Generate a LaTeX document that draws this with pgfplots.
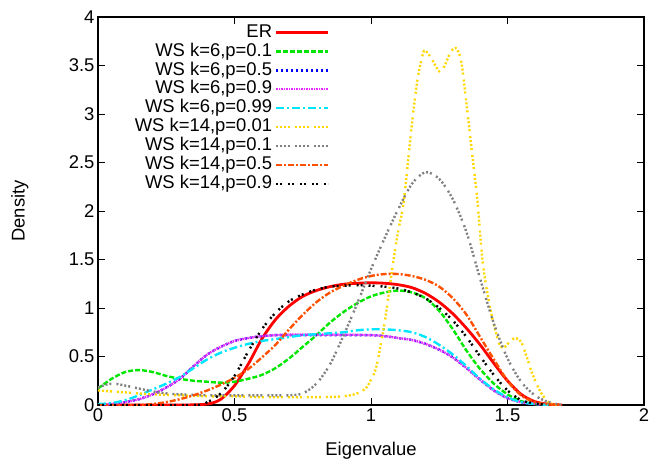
\documentclass[border=0pt]{standalone}
\usepackage{pgfplots}
\pgfplotsset{compat=1.18}
\usepackage{fontspec}
\setmainfont{Liberation Sans}
\definecolor{gGreen}{RGB}{0,230,0}
\definecolor{gBlue}{RGB}{0,0,255}
\definecolor{gMag}{RGB}{230,40,255}
\definecolor{gCyan}{RGB}{0,230,255}
\definecolor{gYel}{RGB}{255,215,0}
\definecolor{gGray}{RGB}{128,128,128}
\definecolor{gOr}{RGB}{255,80,0}
\begin{document}
\begin{tikzpicture}
\path[use as bounding box] (-98bp,-61bp) rectangle (554bp,405bp);
\begin{axis}[
  scale only axis, width=546bp, height=388bp,
  xmin=0, xmax=2, ymin=0, ymax=4,
  xtick={0,0.5,1,1.5,2}, ytick={0,0.5,1,1.5,2,2.5,3,3.5,4},
  tick align=inside, xtick pos=both, ytick pos=both,
  major tick length=7bp,
  tick style={black, line width=0.8bp},
  axis line style={line width=1.1bp},
  /pgf/number format/assume math mode=true,
  every tick label/.append style={font=\fontsize{18.5}{22}\selectfont},
  label style={font=\fontsize{18.5}{22}\selectfont},
  xlabel={Eigenvalue}, ylabel={Density},
  xlabel style={at={(axis description cs:0.5,-0.118)}, anchor=center},
  ylabel style={at={(axis description cs:-0.143,0.5)}, anchor=center},
  legend cell align=right,
  legend plot pos=right,
  legend style={at={(axis description cs:0.43,0.99)}, anchor=north east,
    draw=none, fill=none, font=\fontsize{18.5}{22}\selectfont, row sep=0bp,
    column sep=2bp,
    nodes={inner sep=0.7bp, text height=13.5bp, text depth=4bp}},
  every axis plot/.append style={smooth, line width=2.4bp, line cap=butt,
    legend image code/.code={\draw[##1] (0bp,0bp) -- (52bp,0bp);}},
]
% ER
\addplot[red, solid, line width=2.8bp] coordinates {
(0,0) (0.3,0) (0.4,0.01) (0.45,0.06) (0.5,0.2) (0.55,0.42) (0.6,0.68) (0.65,0.88) (0.7,1.02) (0.75,1.12) (0.8,1.18) (0.85,1.22) (0.9,1.245) (0.95,1.255) (1.0,1.26) (1.05,1.255) (1.1,1.24) (1.15,1.21) (1.2,1.15) (1.25,1.06) (1.3,0.94) (1.35,0.79) (1.4,0.62) (1.45,0.43) (1.5,0.25) (1.55,0.11) (1.6,0.035) (1.65,0.008) (1.7,0)};
\addlegendentry{ER}
% WS k=6 p=0.1
\addplot[gGreen, dash pattern=on 5bp off 2bp] coordinates {
(0,0.17) (0.05,0.27) (0.1,0.34) (0.15,0.36) (0.2,0.34) (0.25,0.3) (0.3,0.27) (0.35,0.25) (0.4,0.24) (0.45,0.23) (0.5,0.24) (0.55,0.27) (0.6,0.31) (0.65,0.38) (0.7,0.48) (0.75,0.6) (0.8,0.72) (0.85,0.85) (0.9,0.96) (0.95,1.05) (1.0,1.12) (1.05,1.16) (1.1,1.18) (1.15,1.16) (1.2,1.1) (1.25,0.97) (1.3,0.78) (1.35,0.56) (1.4,0.37) (1.45,0.22) (1.5,0.11) (1.55,0.04) (1.6,0.01) (1.65,0)};
\addlegendentry{WS k=6,p=0.1}
% WS k=6 p=0.5
\addplot[gBlue, dash pattern=on 2bp off 3bp] coordinates {
(0,0.005) (0.05,0.01) (0.1,0.03) (0.15,0.06) (0.2,0.11) (0.25,0.18) (0.3,0.27) (0.35,0.4) (0.4,0.52) (0.45,0.6) (0.5,0.66) (0.55,0.69) (0.6,0.71) (0.65,0.72) (0.7,0.72) (0.8,0.72) (0.9,0.72) (1.0,0.72) (1.05,0.71) (1.1,0.69) (1.15,0.67) (1.2,0.63) (1.25,0.57) (1.3,0.49) (1.35,0.38) (1.4,0.26) (1.45,0.15) (1.5,0.07) (1.55,0.03) (1.6,0.01) (1.65,0)};
\addlegendentry{WS k=6,p=0.5}
% WS k=6 p=0.9
\addplot[gMag, dash pattern=on 1.5bp off 1bp] coordinates {
(0,0.005) (0.05,0.01) (0.1,0.03) (0.15,0.06) (0.2,0.11) (0.25,0.18) (0.3,0.27) (0.35,0.4) (0.4,0.52) (0.45,0.6) (0.5,0.66) (0.55,0.69) (0.6,0.71) (0.65,0.72) (0.7,0.725) (0.8,0.725) (0.9,0.725) (1.0,0.72) (1.05,0.71) (1.1,0.69) (1.15,0.67) (1.2,0.63) (1.25,0.57) (1.3,0.49) (1.35,0.38) (1.4,0.26) (1.45,0.15) (1.5,0.07) (1.55,0.03) (1.6,0.01) (1.65,0)};
\addlegendentry{WS k=6,p=0.9}
% WS k=6 p=0.99
\addplot[gCyan, dash pattern=on 8bp off 3bp on 2bp off 3bp] coordinates {
(0,0.01) (0.05,0.02) (0.1,0.05) (0.15,0.1) (0.2,0.16) (0.25,0.22) (0.3,0.29) (0.35,0.38) (0.4,0.47) (0.45,0.54) (0.5,0.59) (0.55,0.63) (0.6,0.66) (0.65,0.68) (0.7,0.7) (0.75,0.72) (0.8,0.73) (0.85,0.74) (0.9,0.75) (0.95,0.77) (1.0,0.78) (1.05,0.78) (1.1,0.77) (1.15,0.75) (1.2,0.7) (1.25,0.62) (1.3,0.52) (1.35,0.4) (1.4,0.27) (1.45,0.16) (1.5,0.08) (1.55,0.03) (1.6,0.01) (1.65,0)};
\addlegendentry{WS k=6,p=0.99}
% WS k=14 p=0.01
\addplot[gYel, dash pattern=on 2bp off 2bp on 2bp off 2bp on 2bp off 2bp on 2bp off 5bp] coordinates {
(0,0.15) (0.05,0.14) (0.1,0.13) (0.2,0.11) (0.3,0.1) (0.4,0.09) (0.5,0.09) (0.6,0.08) (0.7,0.08) (0.8,0.08) (0.9,0.09) (0.95,0.12) (0.98,0.17) (1.0,0.26) (1.02,0.4) (1.05,0.85) (1.08,1.45) (1.1,1.8) (1.12,2.1) (1.15,2.9) (1.17,3.35) (1.19,3.62) (1.2,3.65) (1.22,3.58) (1.25,3.44) (1.27,3.5) (1.29,3.63) (1.31,3.68) (1.33,3.55) (1.35,3.1) (1.37,2.6) (1.39,2.1) (1.41,1.45) (1.44,0.95) (1.47,0.63) (1.49,0.6) (1.51,0.66) (1.53,0.69) (1.55,0.65) (1.57,0.5) (1.59,0.33) (1.62,0.14) (1.65,0.03) (1.68,0)};
\addlegendentry{WS k=14,p=0.01}
% WS k=14 p=0.1
\addplot[gGray, dash pattern=on 2bp off 2bp on 2bp off 2bp on 2bp off 2bp on 2bp off 5bp] coordinates {
(0,0.18) (0.03,0.21) (0.06,0.22) (0.1,0.2) (0.15,0.17) (0.2,0.14) (0.25,0.12) (0.3,0.11) (0.4,0.1) (0.5,0.1) (0.6,0.1) (0.7,0.1) (0.75,0.12) (0.8,0.22) (0.85,0.42) (0.9,0.72) (0.95,1.05) (1.0,1.4) (1.05,1.72) (1.1,2.02) (1.15,2.28) (1.2,2.4) (1.25,2.33) (1.3,2.12) (1.35,1.78) (1.4,1.3) (1.45,0.84) (1.5,0.48) (1.55,0.24) (1.6,0.1) (1.65,0.03) (1.7,0)};
\addlegendentry{WS k=14,p=0.1}
% WS k=14 p=0.5
\addplot[gOr, dash pattern=on 6bp off 2bp on 2bp off 2bp] coordinates {
(0,0) (0.15,0) (0.2,0.01) (0.25,0.03) (0.3,0.06) (0.35,0.1) (0.4,0.15) (0.45,0.21) (0.5,0.28) (0.55,0.37) (0.6,0.49) (0.65,0.62) (0.7,0.78) (0.75,0.93) (0.8,1.06) (0.85,1.16) (0.9,1.23) (0.95,1.29) (1.0,1.33) (1.05,1.35) (1.1,1.35) (1.15,1.33) (1.2,1.29) (1.25,1.22) (1.3,1.1) (1.35,0.93) (1.4,0.7) (1.45,0.47) (1.5,0.25) (1.55,0.1) (1.6,0.03) (1.65,0.007) (1.7,0)};
\addlegendentry{WS k=14,p=0.5}
% WS k=14 p=0.9
\addplot[black, dash pattern=on 2bp off 2bp on 2bp off 6bp] coordinates {
(0,0) (0.35,0) (0.4,0.03) (0.45,0.12) (0.5,0.3) (0.55,0.55) (0.6,0.78) (0.65,0.95) (0.7,1.07) (0.75,1.14) (0.8,1.19) (0.85,1.22) (0.9,1.23) (0.95,1.235) (1.0,1.23) (1.05,1.22) (1.1,1.2) (1.15,1.16) (1.2,1.1) (1.25,1.0) (1.3,0.87) (1.35,0.7) (1.4,0.5) (1.45,0.31) (1.5,0.15) (1.55,0.05) (1.6,0.015) (1.65,0)};
\addlegendentry{WS k=14,p=0.9}
\end{axis}
\end{tikzpicture}
\end{document}
